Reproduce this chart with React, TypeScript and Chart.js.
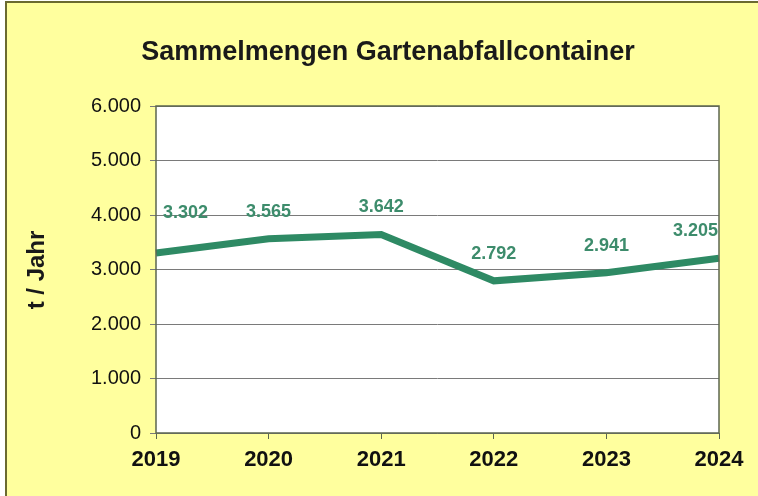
import React, { useEffect, useRef } from "react";
import { Chart, registerables } from "chart.js";

Chart.register(...registerables);

const years = ["2019", "2020", "2021", "2022", "2023", "2024"];
const amounts = [3302, 3565, 3642, 2792, 2941, 3205];
const amountLabels = ["3.302", "3.565", "3.642", "2.792", "2.941", "3.205"];
const yTicks = [0, 1000, 2000, 3000, 4000, 5000, 6000];
const chartTitle = "Sammelmengen Gartenabfallcontainer";
const yTitle = "t / Jahr";

const FONT = "'Liberation Sans', Arial, sans-serif";
const fmt = (v: number) => (v === 0 ? "0" : v.toLocaleString("de-DE"));

const decorPlugin = {
  id: "decor",
  beforeDraw(chart: any) {
    const { ctx, width, height, chartArea } = chart;
    ctx.save();
    ctx.fillStyle = "#ffffff";
    ctx.fillRect(0, 0, width, height);
    ctx.fillStyle = "#ffff9e";
    ctx.fillRect(6, 2, width - 6, height - 2);
    ctx.strokeStyle = "#6b6a30";
    ctx.lineWidth = 2;
    ctx.beginPath();
    ctx.moveTo(6, height);
    ctx.lineTo(6, 2);
    ctx.lineTo(width, 2);
    ctx.stroke();
    ctx.fillStyle = "#ffffff";
    ctx.fillRect(chartArea.left, chartArea.top, chartArea.right - chartArea.left, chartArea.bottom - chartArea.top);
    ctx.restore();
  },
  afterDraw(chart: any) {
    const { ctx, chartArea } = chart;
    ctx.save();
    ctx.fillStyle = "#1a1a1a";
    ctx.font = `bold 27px ${FONT}`;
    ctx.textAlign = "center";
    ctx.textBaseline = "middle";
    ctx.fillText(chartTitle, 388, 53);
    ctx.save();
    ctx.translate(37, 270);
    ctx.rotate(-Math.PI / 2);
    ctx.font = `bold 24px ${FONT}`;
    ctx.fillText(yTitle, 0, 0);
    ctx.restore();
    // plot border
    ctx.strokeStyle = "#5c6650";
    ctx.lineWidth = 1.5;
    ctx.strokeRect(chartArea.left, chartArea.top, chartArea.right - chartArea.left, chartArea.bottom - chartArea.top);
    // data labels
    const meta = chart.getDatasetMeta(0);
    ctx.fillStyle = "#3d8c6c";
    ctx.font = `bold 18px ${FONT}`;
    ctx.textBaseline = "middle";
    meta.data.forEach((pt: any, i: number) => {
      const n = meta.data.length;
      let x = pt.x;
      let align = "center";
      if (i === 0) { x = pt.x + 7; align = "left"; }
      if (i === n - 1) { x = pt.x - 1; align = "right"; }
      ctx.textAlign = align;
      const dy = i === 0 ? 40 : 27;
      ctx.fillText(amountLabels[i], x, pt.y - dy);
    });
    ctx.restore();
  },
};

export default function App() {
  const ref = useRef<HTMLCanvasElement>(null);
  useEffect(() => {
    if (!ref.current) return;
    const chart = new Chart(ref.current, {
      type: "line",
      data: {
        labels: years,
        datasets: [
          {
            data: amounts,
            borderColor: "#2e8a64",
            borderWidth: 7,
            pointRadius: 0,
            tension: 0,
            fill: false,
          },
        ],
      },
      options: {
        animation: false,
        responsive: false,
        devicePixelRatio: 1,
        layout: { padding: { left: 0, right: 39, top: 106, bottom: 0 } },
        plugins: { legend: { display: false }, title: { display: false }, tooltip: { enabled: false } },
        scales: {
          x: {
            offset: false,
            grid: { display: true, drawOnChartArea: false, drawTicks: true, tickLength: 6, color: "#5c6650" },
            border: { display: false },
            ticks: { color: "#111", font: { family: FONT, size: 22, weight: "bold" }, padding: 8, maxRotation: 0, autoSkip: false },
            afterFit: (s: any) => { s.height = 63; },
          },
          y: {
            min: 0,
            max: 6000,
            afterBuildTicks: (s: any) => { s.ticks = yTicks.map((v) => ({ value: v })); },
            grid: { color: "#7a7a7a", lineWidth: 1, drawTicks: true, tickLength: 6 },
            border: { display: false },
            ticks: { color: "#111", font: { family: FONT, size: 20 }, padding: 9, callback: (v: any) => fmt(Number(v)) },
            afterFit: (s: any) => { s.width = 156; },
          },
        },
      },
      plugins: [decorPlugin],
    });
    return () => chart.destroy();
  }, []);
  return (
    <div style={{ position: "fixed", left: 0, top: 0, width: 758, height: 496 }}>
      <canvas ref={ref} width={758} height={496} style={{ width: 758, height: 496, display: "block" }} />
    </div>
  );
}
